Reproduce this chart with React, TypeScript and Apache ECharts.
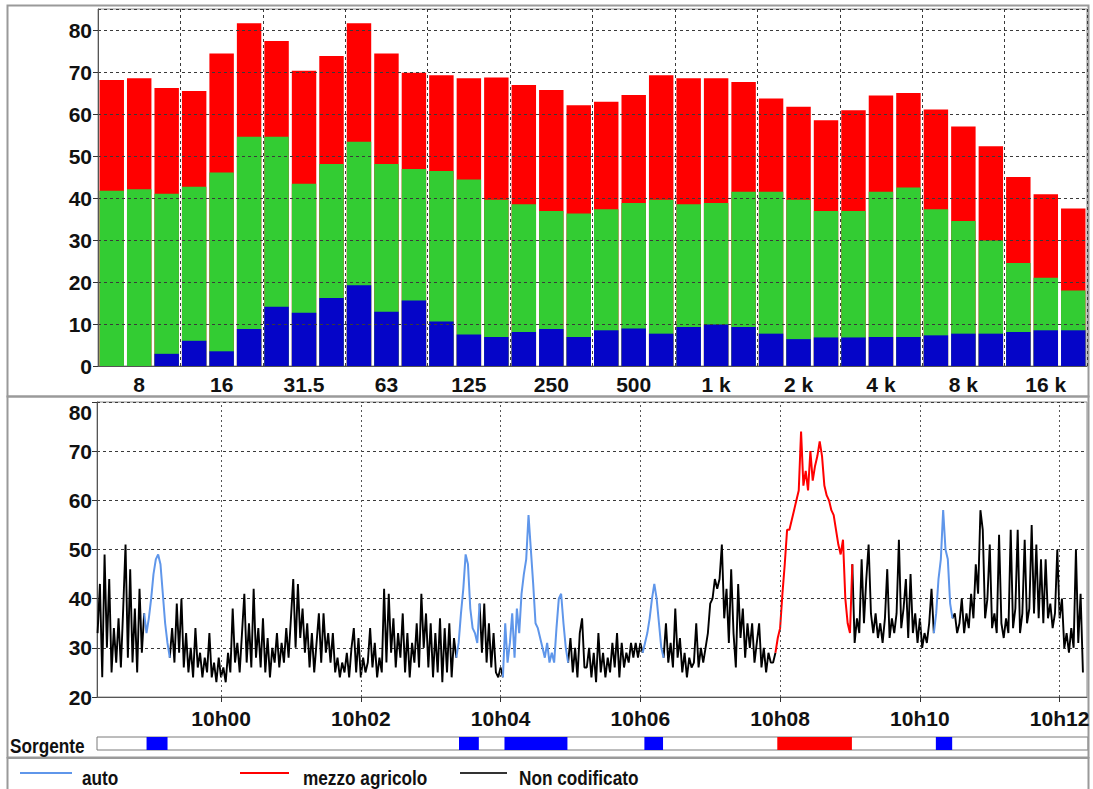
import React, { useEffect, useRef } from "react";
import * as echarts from "echarts";

// ---------- Top chart: 1/3 octave spectrum ----------
const bandLabels = [
  "6.3", "8", "10", "12.5", "16", "20", "25", "31.5", "40", "50", "63", "80",
  "100", "125", "160", "200", "250", "315", "400", "500", "630", "800",
  "1 k", "1.25 k", "1.6 k", "2 k", "2.5 k", "3.15 k", "4 k", "5 k", "6.3 k",
  "8 k", "10 k", "12.5 k", "16 k", "20 k",
];
// top of each coloured part of the stacked bar (dB)
const blueTop = [
  0, 0, 2.9, 6.0, 3.5, 8.8, 14.1, 12.7, 16.2, 19.2, 12.9, 15.6, 10.6, 7.5, 6.9,
  8.1, 8.8, 6.9, 8.5, 8.9, 7.7, 9.3, 9.9, 9.3, 7.7, 6.4, 6.8, 6.8, 6.9, 6.9,
  7.3, 7.7, 7.7, 8.1, 8.5, 8.5,
];
const greenTop = [
  41.7, 42.1, 41.0, 42.7, 46.1, 54.6, 54.6, 43.4, 48.1, 53.4, 48.1, 46.9, 46.4,
  44.4, 39.6, 38.5, 36.9, 36.3, 37.3, 38.8, 39.6, 38.5, 38.8, 41.5, 41.5, 39.6,
  36.9, 36.9, 41.5, 42.5, 37.3, 34.5, 29.9, 24.5, 21.0, 18.0,
];
const redTop = [
  68.1, 68.5, 66.2, 65.5, 74.4, 81.6, 77.4, 70.3, 73.8, 81.6, 74.4, 69.8, 69.2,
  68.5, 68.7, 66.9, 65.7, 62.1, 62.9, 64.5, 69.2, 68.5, 68.5, 67.6, 63.7, 61.7,
  58.5, 60.9, 64.4, 65.0, 61.1, 57.0, 52.3, 45.0, 40.9, 37.5,
];

// ---------- Bottom chart: time history (seconds from 10h00, step 2 s) ----------
const T0 = -106;
const STEP = 2;
const level = [
  33, 43, 24, 49, 30, 44, 25, 34, 27, 36,
  26, 38, 51, 28, 46, 27, 38, 25, 42, 29,
  37, 33, 36, 40, 45, 48, 49, 47, 41, 35,
  31, 28, 34, 27, 39, 29, 40, 26, 33, 25,
  30, 24, 34, 26, 29, 24, 28, 25, 33, 24,
  27, 23, 28, 24, 26, 23, 29, 25, 38, 27,
  31, 25, 33, 41, 27, 35, 26, 42, 28, 34,
  26, 36, 25, 32, 24, 30, 27, 33, 26, 31,
  27, 34, 28, 36, 44, 30, 43, 32, 38, 29,
  35, 26, 33, 25, 31, 37, 27, 37, 29, 33,
  27, 33, 25, 28, 24, 27, 25, 29, 24, 30,
  34, 25, 32, 24, 28, 25, 27, 34, 26, 31,
  24, 28, 25, 42, 27, 41, 29, 36, 26, 33,
  28, 37, 25, 33, 24, 31, 27, 35, 26, 41,
  30, 37, 26, 35, 24, 33, 25, 36, 23, 34,
  25, 35, 24, 32, 28, 31, 37, 42, 49, 47,
  38, 34, 33, 31, 39, 29, 39, 27, 35, 26,
  33, 25, 24, 26, 24, 35, 27, 31, 37, 28,
  38, 33, 41, 45, 48, 57, 50, 43, 35, 34,
  32, 30, 28, 31, 27, 29, 27, 34, 40, 41,
  35, 30, 27, 32, 25, 30, 24, 33, 36, 26,
  26, 30, 24, 29, 23, 33, 25, 29, 24, 28,
  25, 31, 26, 33, 24, 31, 26, 29, 27, 31,
  28, 31, 28, 31, 29, 31, 33, 36, 40, 43,
  40, 35, 30, 28, 35, 27, 31, 26, 38, 28,
  32, 25, 29, 24, 28, 26, 27, 35, 26, 30,
  27, 30, 33, 39, 40, 44, 42, 44, 51, 36,
  42, 31, 46, 33, 26, 43, 32, 38, 28, 35,
  30, 35, 27, 31, 35, 26, 30, 25, 29, 27,
  27, 29, 32, 34, 41, 47, 54, 54, 56, 58,
  60, 62, 74, 63, 66, 62, 70, 64, 67, 69,
  72, 69, 63, 61, 60, 58, 57, 54, 51, 49,
  52, 40, 35, 33, 47, 31, 36, 33, 48, 35,
  44, 51, 37, 33, 37, 32, 35, 31, 36, 46,
  32, 36, 33, 37, 52, 34, 38, 44, 32, 45,
  33, 37, 31, 36, 30, 33, 31, 35, 42, 33,
  37, 44, 48, 58, 50, 48, 39, 36, 37, 33,
  35, 40, 33, 37, 34, 41, 36, 47, 41, 58,
  54, 36, 40, 51, 34, 37, 33, 53, 35, 32,
  36, 33, 54, 34, 38, 54, 33, 37, 52, 35,
  38, 55, 37, 51, 36, 48, 35, 48, 36, 39,
  34, 37, 50, 36, 40, 30, 33, 29, 34, 30,
  50, 31, 41, 25,
];
// source periods (seconds from 10h00)
const autoSpans = [[-64, -46], [204, 221], [243, 297], [363, 379], [613, 627]];
const agriSpans = [[477, 541]];
const timeTicks = [0, 120, 240, 360, 480, 600, 720];
const X_MIN = -106.5;
const X_MAX = 743.5;
const Y2_MIN = 20;
const Y2_MAX = 80;

const AUTO_COLOR = "#5f96ea";
const AGRI_COLOR = "#ff0000";
const NC_COLOR = "#000000";

const FONT = "'Liberation Sans', Arial, sans-serif";

const times = level.map((_, i) => T0 + i * STEP);
const inAny = (t: number, spans: number[][]) =>
  spans.some(([a, b]) => t >= a && t <= b);

function coloredData(spans: number[][]) {
  return level.map((v, i) => {
    const keep =
      inAny(times[i], spans) ||
      (i > 0 && inAny(times[i - 1], spans)) ||
      (i < level.length - 1 && inAny(times[i + 1], spans));
    return [times[i], keep ? v : null];
  });
}
const allSpans = [...autoSpans, ...agriSpans];
const blackData = level.map((v, i) => [
  times[i],
  inAny(times[i], allSpans) ? null : v,
]);
const sourceBlocks = [
  ...autoSpans.map((s) => [s[0], s[1], 0]),
  ...agriSpans.map((s) => [s[0], s[1], 1]),
];

const dotted = { color: "#3a3a3a", type: [3, 3] as number[], width: 1 };
const axisLabelStyle = {
  fontSize: 21,
  fontWeight: "bold" as const,
  color: "#111",
  fontFamily: FONT,
};
const legendText = (text: string, x: number, y: number) => ({
  type: "text",
  x,
  y,
  scaleX: 0.82,
  style: { text, fontSize: 21, fontWeight: "bold", fontFamily: FONT, fill: "#111", verticalAlign: "middle" },
});

export default function App() {
  const ref = useRef<HTMLDivElement>(null);
  useEffect(() => {
    if (!ref.current) return;
    const chart = echarts.init(ref.current, null, { renderer: "svg" });
    const option: any = {
      animation: false,
      backgroundColor: "#ffffff",
      textStyle: { fontFamily: FONT },
      grid: [
        { left: 98, top: 9, width: 989, height: 357, show: true, borderColor: "#8c8c8c", borderWidth: 1, backgroundColor: "#fff" },
        { left: 97, top: 402, width: 990, height: 295, show: true, borderColor: "#8c8c8c", borderWidth: 1, backgroundColor: "#fff" },
        { left: 97, top: 737, width: 991, height: 13, show: true, borderColor: "#7a7a7a", borderWidth: 1, backgroundColor: "#fff" },
      ],
      xAxis: [
        {
          gridIndex: 0,
          type: "category",
          data: bandLabels,
          boundaryGap: true,
          z: 3,
          axisLine: { onZero: false, lineStyle: { color: "#555" } },
          axisTick: { alignWithLabel: true, interval: (i: number) => i % 3 === 1, length: 5, lineStyle: { color: "#333" } },
          axisLabel: { ...axisLabelStyle, interval: (i: number) => i % 3 === 1, margin: 8 },
          splitLine: { show: true, interval: (i: number) => i % 3 === 0, lineStyle: dotted },
        },
        {
          gridIndex: 1,
          type: "value",
          min: X_MIN,
          max: X_MAX,
          axisLine: { onZero: false, lineStyle: { color: "#555" } },
          axisTick: { show: true, customValues: timeTicks, length: 5, lineStyle: { color: "#333" } },
          axisLabel: {
            ...axisLabelStyle,
            customValues: timeTicks,
            margin: 11,
            formatter: (v: number) => "10h" + String(Math.round(v / 60)).padStart(2, "0"),
          },
          splitLine: { show: false },
        },
        { gridIndex: 2, type: "value", min: X_MIN, max: X_MAX, show: false },
      ],
      yAxis: [
        {
          gridIndex: 0,
          type: "value",
          min: 0,
          max: 85,
          interval: 10,
          z: 3,
          axisLine: { show: true, onZero: false, lineStyle: { color: "#555" } },
          axisTick: { show: true, length: 5, lineStyle: { color: "#333" } },
          axisLabel: { ...axisLabelStyle, margin: 6, showMaxLabel: false },
          splitLine: { show: true, lineStyle: dotted },
        },
        {
          gridIndex: 1,
          type: "value",
          min: Y2_MIN,
          max: Y2_MAX,
          interval: 10,
          axisLine: { show: true, onZero: false, lineStyle: { color: "#555" } },
          axisTick: { show: true, length: 5, lineStyle: { color: "#333" } },
          axisLabel: { ...axisLabelStyle, margin: 5, verticalAlignMaxLabel: "top" },
          splitLine: { show: true, lineStyle: dotted },
        },
        { gridIndex: 2, type: "value", min: 0, max: 1, show: false },
      ],
      series: [
        { name: "red", type: "bar", xAxisIndex: 0, yAxisIndex: 0, data: redTop, itemStyle: { color: "#ff0000" }, barCategoryGap: "11%", barGap: "-100%" },
        { name: "green", type: "bar", xAxisIndex: 0, yAxisIndex: 0, data: greenTop, itemStyle: { color: "#33cc33" }, barCategoryGap: "11%", barGap: "-100%" },
        { name: "blue", type: "bar", xAxisIndex: 0, yAxisIndex: 0, data: blueTop, itemStyle: { color: "#0505c8" }, barCategoryGap: "11%", barGap: "-100%" },
        {
          name: "Non codificato",
          type: "line",
          xAxisIndex: 1,
          yAxisIndex: 1,
          data: blackData,
          showSymbol: false,
          symbol: "none",
          lineStyle: { color: NC_COLOR, width: 1.9 },
          markLine: {
            silent: true,
            symbol: ["none", "none"],
            label: { show: false },
            lineStyle: { color: "#555", type: [2, 3], width: 1 },
            data: timeTicks.map((v) => [{ coord: [v, Y2_MIN] }, { coord: [v, Y2_MAX] }]),
          },
        },
        {
          name: "auto",
          type: "line",
          xAxisIndex: 1,
          yAxisIndex: 1,
          data: coloredData(autoSpans),
          showSymbol: false,
          symbol: "none",
          lineStyle: { color: AUTO_COLOR, width: 2 },
        },
        {
          name: "mezzo agricolo",
          type: "line",
          xAxisIndex: 1,
          yAxisIndex: 1,
          data: coloredData(agriSpans),
          showSymbol: false,
          symbol: "none",
          lineStyle: { color: AGRI_COLOR, width: 2 },
        },
        {
          name: "Sorgente",
          type: "custom",
          xAxisIndex: 2,
          yAxisIndex: 2,
          data: sourceBlocks,
          renderItem: (_p: any, api: any) => {
            const a = api.coord([api.value(0), 1]);
            const b = api.coord([api.value(1), 0]);
            return {
              type: "rect",
              shape: { x: a[0], y: a[1], width: b[0] - a[0], height: b[1] - a[1] },
              style: { fill: api.value(2) === 1 ? "#ff0000" : "#0000ff" },
            };
          },
        },
      ],
      graphic: [
        { type: "rect", shape: { x: 7.5, y: 5.5, width: 1081, height: 391 }, style: { fill: "none", stroke: "#9a9a9a", lineWidth: 2 } },
        { type: "rect", shape: { x: 7.5, y: 396.5, width: 1081, height: 361 }, style: { fill: "none", stroke: "#9a9a9a", lineWidth: 2 } },
        { type: "rect", shape: { x: 7.5, y: 758, width: 1081, height: 40 }, style: { fill: "none", stroke: "#9a9a9a", lineWidth: 2 } },
        legendText("Sorgente", 10, 746),
        { type: "line", shape: { x1: 20, y1: 773, x2: 72, y2: 773 }, style: { stroke: AUTO_COLOR, lineWidth: 2 } },
        legendText("auto", 82, 778),
        { type: "line", shape: { x1: 240, y1: 773, x2: 289, y2: 773 }, style: { stroke: AGRI_COLOR, lineWidth: 2 } },
        legendText("mezzo agricolo", 303, 778),
        { type: "line", shape: { x1: 460, y1: 773, x2: 507, y2: 773 }, style: { stroke: "#333", lineWidth: 2 } },
        legendText("Non codificato", 519, 778),
      ],
    };
    chart.setOption(option);
    return () => chart.dispose();
  }, []);
  return (
    <div
      ref={ref}
      style={{ position: "absolute", left: 0, top: 0, width: 1093, height: 789, background: "#fff" }}
    />
  );
}
